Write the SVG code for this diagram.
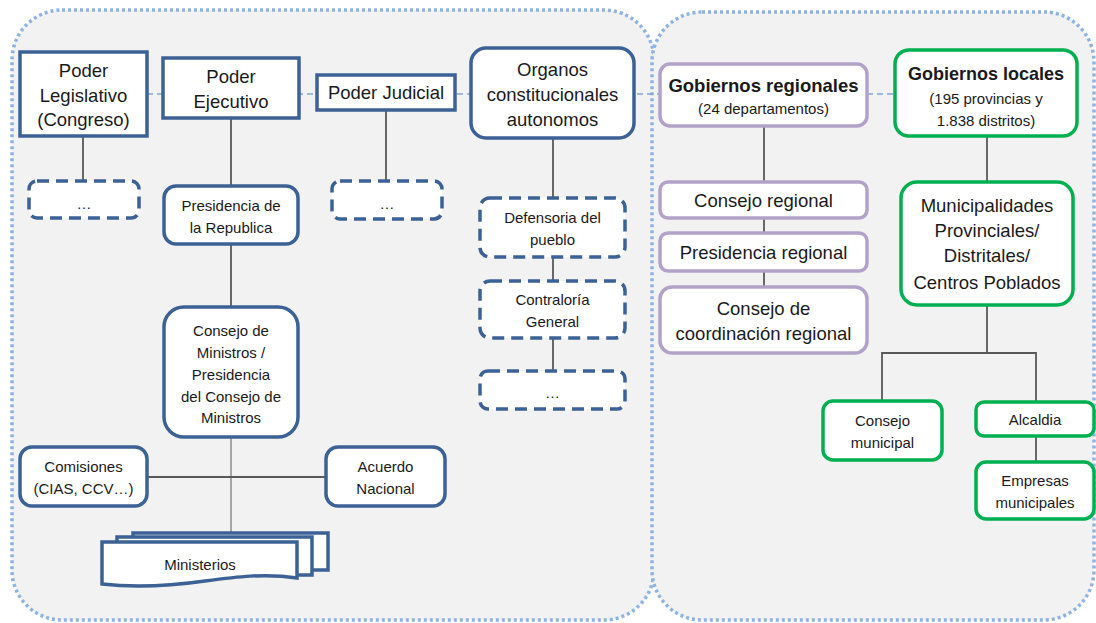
<svg xmlns="http://www.w3.org/2000/svg" width="1096" height="623" viewBox="0 0 1096 623">
<style>
text{font-family:"Liberation Sans",Arial,sans-serif;fill:#1a1a1a;text-anchor:middle;dominant-baseline:central}
.panel{fill:#f2f2f2;stroke:#8db3e2;stroke-width:3.5;stroke-dasharray:3 3}
.blue{fill:#fff;stroke:#3c6194;stroke-width:3.5}
.dash{fill:#fff;stroke:#3c6194;stroke-width:3.5;stroke-dasharray:12 7}
.purple{fill:#fff;stroke:#b3a2c7;stroke-width:3.5}
.green{fill:#fff;stroke:#00b050;stroke-width:3.5}
.ln{stroke:#595959;stroke-width:1.8;fill:none}
.ln2{stroke:#8c8c8c;stroke-width:1.5;fill:none}
.rel{stroke:#7fa7d9;stroke-width:1.5;stroke-dasharray:6 4;fill:none}
.t20{font-size:18.5px}
.t16{font-size:15px}
.b{font-weight:bold}
</style>
<rect width="1096" height="623" fill="#ffffff"/>
<g id="panels">
<rect class="panel" x="12" y="10" width="642" height="610" rx="50"/>
<rect class="panel" x="652" y="12" width="442" height="608" rx="50"/>
</g>
<g id="connectors">
<line class="rel" x1="147" y1="94" x2="895" y2="94"/>
<line class="ln" x1="83" y1="136" x2="83" y2="181"/>
<line class="ln" x1="231" y1="118" x2="231" y2="186"/>
<line class="ln" x1="231" y1="244" x2="231" y2="307"/>
<line class="ln2" x1="231" y1="437" x2="231" y2="533"/>
<line class="ln" x1="147" y1="477" x2="326" y2="477"/>
<line class="ln" x1="386" y1="110" x2="386" y2="181"/>
<line class="ln" x1="553" y1="138" x2="553" y2="198"/>
<line class="ln" x1="553" y1="257" x2="553" y2="281"/>
<line class="ln" x1="553" y1="338" x2="553" y2="371"/>
<line class="ln" x1="764" y1="126" x2="764" y2="182"/>
<line class="ln" x1="764" y1="218" x2="764" y2="233"/>
<line class="ln" x1="764" y1="271" x2="764" y2="287"/>
<line class="ln" x1="987" y1="136" x2="987" y2="182"/>
<line class="ln" x1="987" y1="305" x2="987" y2="353"/>
<polyline class="ln" points="882,401 882,353 1036,353 1036,402"/>
<line class="ln" x1="1036" y1="436" x2="1036" y2="462"/>
</g>
<g id="legislativo">
<rect class="blue" x="20" y="52" width="127" height="84"/>
<text class="t20" x="83.5" y="70">Poder</text>
<text class="t20" x="83.5" y="95">Legislativo</text>
<text class="t20" x="83.5" y="119">(Congreso)</text>
</g>
<g id="ejecutivo">
<rect class="blue" x="163" y="58" width="136" height="60"/>
<text class="t20" x="231" y="76">Poder</text>
<text class="t20" x="231" y="101">Ejecutivo</text>
</g>
<g id="judicial">
<rect class="blue" x="317" y="75" width="138" height="35"/>
<text class="t20" x="386" y="92">Poder Judicial</text>
</g>
<g id="organos">
<rect class="blue" x="471" y="48" width="163" height="90" rx="15"/>
<text class="t20" x="552.5" y="69">Organos</text>
<text class="t20" x="552.5" y="94">constitucionales</text>
<text class="t20" x="552.5" y="119">autonomos</text>
</g>
<g id="leg-sub">
<rect class="dash" x="29" y="181" width="110" height="37" rx="8"/>
<text class="t16" x="84" y="203">…</text>
</g>
<g id="presidencia">
<rect class="blue" x="164" y="186" width="134" height="58" rx="12"/>
<text class="t16" x="231" y="205">Presidencia de</text>
<text class="t16" x="231" y="227">la Republica</text>
</g>
<g id="jud-sub">
<rect class="dash" x="332" y="181" width="110" height="38" rx="8"/>
<text class="t16" x="387" y="203">…</text>
</g>
<g id="consejo-ministros">
<rect class="blue" x="164" y="307" width="134" height="130" rx="20"/>
<text class="t16" x="231" y="330">Consejo de</text>
<text class="t16" x="231" y="352">Ministros /</text>
<text class="t16" x="231" y="374">Presidencia</text>
<text class="t16" x="231" y="396">del Consejo de</text>
<text class="t16" x="231" y="417">Ministros</text>
</g>
<g id="comisiones">
<rect class="blue" x="20" y="447" width="127" height="59" rx="12"/>
<text class="t16" x="83.5" y="466">Comisiones</text>
<text class="t16" x="83.5" y="488">(CIAS, CCV…)</text>
</g>
<g id="acuerdo">
<rect class="blue" x="326" y="447" width="119" height="59" rx="12"/>
<text class="t16" x="385.5" y="466">Acuerdo</text>
<text class="t16" x="385.5" y="488">Nacional</text>
</g>
<g id="ministerios">
<rect class="blue" x="133" y="533" width="195" height="37"/>
<rect class="blue" x="117" y="537" width="195" height="38"/>
<path class="blue" d="M102,542 H297 V578 C265,573 235,577 205,581 C170,586 135,588 102,584 Z"/>
<text class="t16" x="200" y="564">Ministerios</text>
</g>
<g id="defensoria">
<rect class="dash" x="480" y="198" width="145" height="59" rx="10"/>
<text class="t16" x="552.5" y="217">Defensoria del</text>
<text class="t16" x="552.5" y="239">pueblo</text>
</g>
<g id="contraloria">
<rect class="dash" x="480" y="281" width="145" height="57" rx="10"/>
<text class="t16" x="552.5" y="299">Contraloría</text>
<text class="t16" x="552.5" y="321">General</text>
</g>
<g id="organos-sub">
<rect class="dash" x="480" y="371" width="145" height="38" rx="8"/>
<text class="t16" x="552.5" y="392">…</text>
</g>
<g id="gob-regionales">
<rect class="purple" x="660" y="64" width="207" height="62" rx="10"/>
<text class="t20 b" x="763.5" y="85">Gobiernos regionales</text>
<text class="t16" x="763.5" y="108">(24 departamentos)</text>
</g>
<g id="consejo-regional">
<rect class="purple" x="660" y="182" width="207" height="36" rx="8"/>
<text class="t20" x="763.5" y="200">Consejo regional</text>
</g>
<g id="presidencia-regional">
<rect class="purple" x="660" y="233" width="207" height="38" rx="8"/>
<text class="t20" x="763.5" y="252">Presidencia regional</text>
</g>
<g id="coordinacion-regional">
<rect class="purple" x="660" y="287" width="207" height="66" rx="12"/>
<text class="t20" x="763.5" y="308">Consejo de</text>
<text class="t20" x="763.5" y="333">coordinación regional</text>
</g>
<g id="gob-locales">
<rect class="green" x="895" y="50" width="182" height="86" rx="14"/>
<text class="t20 b" x="986" y="73" textLength="156" lengthAdjust="spacingAndGlyphs">Gobiernos locales</text>
<text class="t16" x="986" y="98">(195 provincias y</text>
<text class="t16" x="986" y="120">1.838 distritos)</text>
</g>
<g id="municipalidades">
<rect class="green" x="901" y="182" width="172" height="123" rx="16"/>
<text class="t20" x="987" y="205">Municipalidades</text>
<text class="t20" x="987" y="230">Provinciales/</text>
<text class="t20" x="987" y="255">Distritales/</text>
<text class="t20" x="987" y="282">Centros Poblados</text>
</g>
<g id="consejo-municipal">
<rect class="green" x="823" y="401" width="119" height="59" rx="10"/>
<text class="t16" x="882.5" y="420">Consejo</text>
<text class="t16" x="882.5" y="442">municipal</text>
</g>
<g id="alcaldia">
<rect class="green" x="976" y="402" width="118" height="34" rx="8"/>
<text class="t16" x="1035" y="419">Alcaldia</text>
</g>
<g id="empresas">
<rect class="green" x="976" y="462" width="118" height="57" rx="10"/>
<text class="t16" x="1035" y="480">Empresas</text>
<text class="t16" x="1035" y="502">municipales</text>
</g>
</svg>
